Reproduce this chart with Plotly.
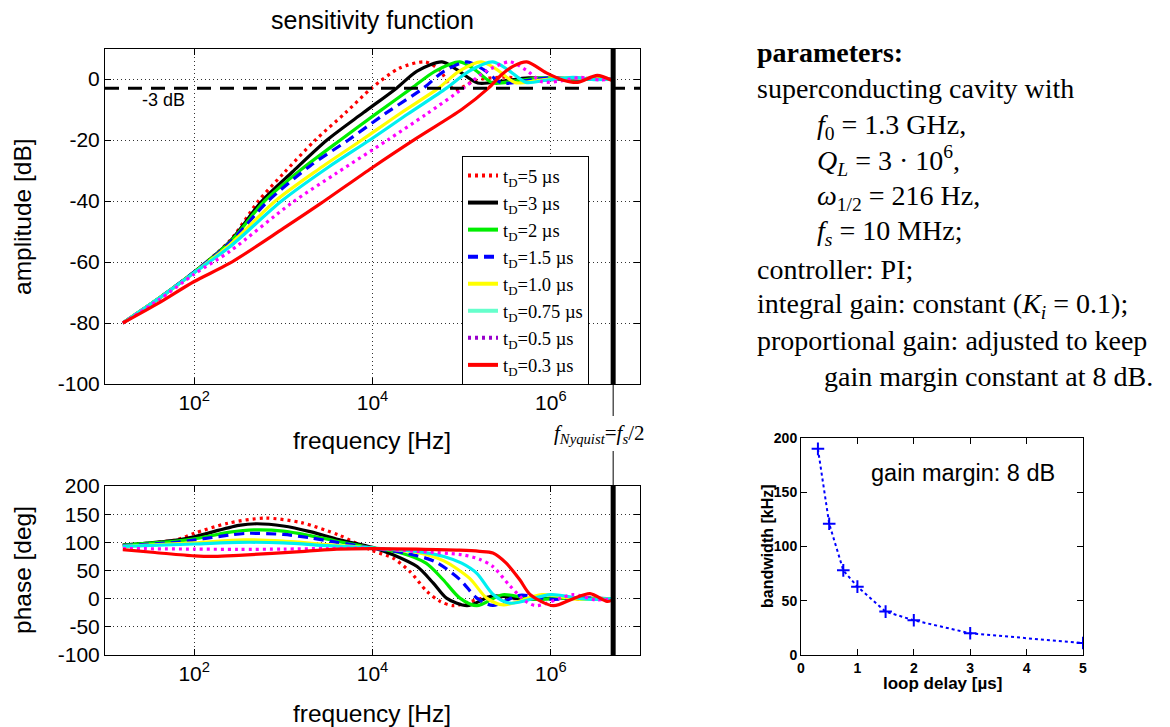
import plotly.graph_objects as go

# ---------------- data ----------------
delay_labels = ["t<sub>D</sub>=5 µs", "t<sub>D</sub>=3 µs", "t<sub>D</sub>=2 µs", "t<sub>D</sub>=1.5 µs",
                "t<sub>D</sub>=1.0 µs", "t<sub>D</sub>=0.75 µs", "t<sub>D</sub>=0.5 µs", "t<sub>D</sub>=0.3 µs"]

# amplitude of the sensitivity function: log10(frequency/Hz) and dB
amp_logf = [
    [1.2, 1.6, 2.0, 2.4, 2.72, 3.0, 3.36, 3.7, 3.99, 4.3, 4.59, 4.75, 4.92, 5.15, 5.45, 5.9, 6.3, 6.7],
    [1.2, 1.6, 2.0, 2.4, 2.76, 3.1, 3.49, 3.9, 4.27, 4.5, 4.78, 4.95, 5.18, 5.45, 5.75, 6.1, 6.7],
    [1.2, 1.6, 2.0, 2.4, 2.79, 3.2, 3.64, 4.05, 4.44, 4.7, 4.98, 5.15, 5.35, 5.6, 5.9, 6.3, 6.7],
    [1.2, 1.6, 2.0, 2.4, 2.83, 3.3, 3.73, 4.15, 4.57, 4.8, 5.06, 5.25, 5.45, 5.7, 6.0, 6.4, 6.7],
    [1.2, 1.6, 2.0, 2.4, 2.91, 3.4, 3.88, 4.31, 4.74, 4.97, 5.22, 5.4, 5.6, 5.85, 6.15, 6.5, 6.7],
    [1.2, 1.6, 2.0, 2.4, 2.98, 3.5, 3.97, 4.4, 4.83, 5.08, 5.35, 5.52, 5.72, 5.95, 6.25, 6.5, 6.7],
    [1.2, 1.6, 2.0, 2.4, 3.10, 3.6, 4.17, 4.6, 5.02, 5.27, 5.54, 5.72, 5.9, 6.1, 6.33, 6.55, 6.7],
    [1.2, 1.6, 2.0, 2.4, 3.0, 3.42, 4.0, 4.5, 5.0, 5.30, 5.45, 5.58, 5.73, 5.95, 6.14, 6.3, 6.52, 6.68],
]
amp_db = [
    [-80, -72, -63.3, -53, -40, -31, -20, -11, -3, 3.5, 5.6, 3.0, -3.5, -0.5, 0.6, -0.3, 0.2, 0],
    [-80, -72, -63.3, -53.3, -40, -30.5, -20, -11, -3, 2.6, 5.6, 3.0, -1.3, -0.7, 0.4, 0, 0],
    [-80, -72, -63.3, -53.5, -40, -29.7, -20, -11.2, -3, 2.5, 5.6, 3.0, -1.3, -0.6, 0.4, 0, 0],
    [-80, -72, -63.3, -53.7, -40, -28.5, -20, -11.2, -3, 2.5, 5.6, 3.0, -1.3, -0.6, 0.4, 0, 0],
    [-80, -72, -63.5, -54.3, -40, -29.5, -20, -11.3, -3, 2.5, 5.6, 3.0, -1.2, -0.5, 0.4, 0, 0],
    [-80, -72, -63.5, -55, -40, -29, -20, -11.4, -3, 2.5, 5.6, 3.0, -1.1, -0.4, 0.5, -0.2, 0],
    [-80, -72.5, -64, -56.5, -40.5, -30.8, -20, -11.6, -3, 2.5, 5.6, 3.0, -0.9, -0.7, 0.5, -0.3, 0],
    [-80, -73.5, -66.4, -60.4, -49, -40.8, -29, -19.3, -10, -3, 1.5, 4.2, 5.6, 2.0, -0.4, -1.1, 1.2, -0.4],
]

# phase of the sensitivity function: log10(frequency/Hz) and degrees
ph_logf = [
    [1.2, 1.8, 2.0, 2.38, 2.8, 3.2, 3.62, 4.0, 4.23, 4.42, 4.61, 4.76, 4.91, 5.1, 5.3, 5.6, 6.0, 6.4, 6.7],
    [1.2, 1.8, 2.0, 2.5, 2.7, 3.0, 3.3, 3.62, 4.0, 4.23, 4.5, 4.68, 4.83, 5.06, 5.35, 5.7, 6.1, 6.7],
    [1.2, 1.8, 2.0, 2.4, 2.67, 3.0, 3.3, 3.6, 4.0, 4.3, 4.6, 4.79, 4.98, 5.17, 5.46, 5.8, 6.2, 6.7],
    [1.2, 1.8, 2.0, 2.4, 2.6, 3.0, 3.3, 3.6, 4.0, 4.4, 4.7, 4.98, 5.17, 5.35, 5.65, 6.0, 6.4, 6.7],
    [1.2, 2.0, 2.55, 3.0, 3.5, 4.0, 4.5, 4.8, 5.09, 5.28, 5.47, 5.9, 6.3, 6.7],
    [1.2, 2.0, 2.5, 3.0, 3.5, 4.0, 4.5, 4.8, 5.0, 5.17, 5.35, 5.54, 6.0, 6.4, 6.7],
    [1.2, 2.0, 2.5, 3.0, 3.5, 4.0, 4.5, 5.0, 5.2, 5.35, 5.54, 5.72, 5.84, 6.25, 6.5, 6.7],
    [1.2, 1.56, 2.0, 2.23, 2.5, 3.24, 3.6, 4.0, 4.5, 4.98, 5.2, 5.35, 5.5, 5.65, 5.77, 6.03, 6.25, 6.44, 6.63, 6.68],
]
ph_deg = [
    [95, 104.6, 116, 134, 143, 135, 113, 85, 72, 48, 13, -5, -12.5, -5, 3, 0, 1, -1, 0],
    [95, 104, 110, 130, 133, 129, 119, 105, 91, 78, 57, 28, 1, -12.5, 5, -1, 1, 0],
    [95, 102, 106, 118, 122, 120, 112, 102, 90, 82, 63, 34, 1, -12.5, 7, -1, 1, 0],
    [94, 100, 104, 113, 116, 114, 108, 100, 90, 80, 66, 34, 1, -12, 6, -1, 1, 0],
    [93, 99, 104.6, 102, 96, 90, 82, 67, 36, 1, -11, 7, -1, 0],
    [93, 97, 100, 99, 94, 90, 84, 75, 63, 45, 8, -8, 7, -1, 0],
    [89, 88, 87.5, 88, 89, 89, 84, 78, 70, 57, 23, -5, -12.5, 7, -2, 0],
    [87, 82, 76, 75, 77, 84, 88, 89, 88, 86, 84, 81, 63, 34, 7, -12.5, 0, 9, -5, -3],
]

nyquist_hz = 5e6          # f_s / 2
minus3_db = -3
amp_ticks = [-100, -80, -60, -40, -20, 0]
phase_ticks = [-100, -50, 0, 50, 100, 150, 200]

# bandwidth versus loop delay (inset)
delay_us = [0.3, 0.5, 0.75, 1.0, 1.5, 2.0, 3.0, 5.0]
bandwidth_khz = [190, 121, 78, 63, 40, 32, 20, 11]

# ---------------- styles ----------------
plot_colors = ["#ff0000", "#000000", "#00ee00", "#0000ff", "#ffff00", "#00f0f0", "#ff00ff", "#ff0000"]
legend_colors = ["#ff0000", "#000000", "#00ee00", "#0000ff", "#ffff00", "#66ffcc", "#9900cc", "#ff0000"]
dashes = ["3px,4px", "solid", "solid", "10px,6px", "solid", "solid", "3px,4px", "solid"]

W, H = 1170, 727
def px(x):
    return x / W
def py(y):
    return 1 - y / H

SANS = "Liberation Sans, Arial, Helvetica, sans-serif"
SERIF = "Liberation Serif, Times New Roman, serif"

fig = go.Figure()
for i in range(8):
    fig.add_trace(go.Scatter(
        x=[10 ** v for v in amp_logf[i]], y=amp_db[i], mode="lines",
        line=dict(color=plot_colors[i], width=3.2, dash=dashes[i], shape="spline", smoothing=0.8),
        showlegend=False, xaxis="x", yaxis="y", hoverinfo="skip"))
for i in range(8):
    fig.add_trace(go.Scatter(
        x=[10 ** v for v in ph_logf[i]], y=ph_deg[i], mode="lines",
        line=dict(color=plot_colors[i], width=3.2, dash=dashes[i], shape="spline", smoothing=0.8),
        showlegend=False, xaxis="x2", yaxis="y2", hoverinfo="skip"))
# legend entries (legend-only, no data drawn)
for i in range(8):
    fig.add_trace(go.Scatter(
        x=[None], y=[None], mode="lines", name=delay_labels[i],
        line=dict(color=legend_colors[i], width=4, dash=dashes[i]),
        showlegend=True, xaxis="x", yaxis="y"))

# Nyquist frequency markers
fig.add_trace(go.Scatter(x=[nyquist_hz, nyquist_hz], y=[-100, 10], mode="lines",
                         line=dict(color="black", width=5), showlegend=False,
                         xaxis="x", yaxis="y", hoverinfo="skip"))
fig.add_trace(go.Scatter(x=[nyquist_hz, nyquist_hz], y=[-100, 200], mode="lines",
                         line=dict(color="black", width=5), showlegend=False,
                         xaxis="x2", yaxis="y2", hoverinfo="skip"))
# inset: bandwidth vs loop delay
fig.add_trace(go.Scatter(x=delay_us, y=bandwidth_khz, mode="lines+markers",
                         line=dict(color="#0000ff", width=2, dash="dot"),
                         marker=dict(symbol="cross-thin", size=9, line=dict(color="#0000ff", width=2)),
                         showlegend=False, xaxis="x3", yaxis="y3", hoverinfo="skip"))

common_axis = dict(showline=True, linecolor="black", linewidth=1, mirror="ticks",
                   ticks="inside", ticklen=6, tickcolor="black", zeroline=False, automargin=False)
grid = dict(showgrid=True, gridcolor="#333333", griddash="1px,3px", gridwidth=1)
tickf = dict(family=SANS, size=21, color="black")
log_ticks = [1e2, 1e4, 1e6]
log_text = ["10<sup>2</sup>", "10<sup>4</sup>", "10<sup>6</sup>"]

fig.update_layout(
    template="none", autosize=True,
    margin=dict(l=0, r=0, t=0, b=0, pad=0, autoexpand=False),
    paper_bgcolor="white", plot_bgcolor="white",
    xaxis=dict(domain=[px(105), px(640)], type="log", range=[1, 7], anchor="y",
               tickvals=log_ticks, ticktext=log_text, tickfont=tickf, **grid, **common_axis),
    yaxis=dict(domain=[py(384), py(48.5)], range=[-100, 10], anchor="x",
               tickvals=amp_ticks, ticktext=[str(v) for v in amp_ticks],
               tickfont=tickf, **grid, **common_axis),
    xaxis2=dict(domain=[px(105), px(640)], type="log", range=[1, 7], anchor="y2",
                tickvals=log_ticks, ticktext=log_text, tickfont=tickf, **grid, **common_axis),
    yaxis2=dict(domain=[py(655), py(486)], range=[-100, 200], anchor="x2",
                tickvals=phase_ticks, ticktext=[str(v) for v in phase_ticks],
                tickfont=tickf, **grid, **common_axis),
    xaxis3=dict(domain=[px(801), px(1083)], range=[0, 5], anchor="y3", dtick=1, showgrid=False,
                tickfont=dict(family=SANS, size=14, color="black", weight="bold"), **common_axis),
    yaxis3=dict(domain=[py(655), py(438)], range=[0, 200], anchor="x3", dtick=50, showgrid=False,
                tickfont=dict(family=SANS, size=14, color="black", weight="bold"), **common_axis),
    legend=dict(x=px(462), y=py(156), xanchor="left", yanchor="top",
                bgcolor="white", bordercolor="black", borderwidth=1,
                font=dict(family=SERIF, size=18.5, color="black"),
                itemwidth=30, tracegroupgap=0, itemclick=False, itemdoubleclick=False),
)

shapes = [
    dict(type="line", xref="x domain", yref="y", x0=0, x1=1, y0=minus3_db, y1=minus3_db,
         line=dict(color="black", width=3, dash="14px,9px")),
    dict(type="line", xref="x", yref="paper", x0=nyquist_hz, x1=nyquist_hz, y0=py(384), y1=py(416),
         line=dict(color="black", width=1)),
    dict(type="line", xref="x", yref="paper", x0=nyquist_hz, x1=nyquist_hz, y0=py(451), y1=py(486),
         line=dict(color="black", width=1)),
]
fig.update_layout(shapes=shapes)

ann = []
def A(text, x, y, size, family=SANS, xanchor="center", angle=0, weight="normal"):
    ann.append(dict(text=text, x=px(x), y=py(y), xref="paper", yref="paper", showarrow=False,
                    xanchor=xanchor, yanchor="middle", textangle=angle,
                    font=dict(family=family, size=size, color="black", weight=weight)))

A("sensitivity function", 372, 20, 25)
A("amplitude [dB]", 22, 217, 24.5, angle=-90)
A("frequency [Hz]", 372, 440, 24.5)
A("phase [deg]", 22, 570, 24.5, angle=-90)
A("frequency [Hz]", 372, 713, 24.5)
A("-3 dB", 163, 100, 18)
A("<i>f</i><sub><i>Nyquist</i></sub>=<i>f</i><sub><i>s</i></sub>/2", 552, 434, 21, family=SERIF, xanchor="left")
A("gain margin: 8 dB", 963, 473, 23.5)
A("loop delay [µs]", 942, 683, 17, weight="bold")
A("bandwidth [kHz]", 767, 546, 16, angle=-90, weight="bold")

rx, ind, ind2 = 755, 815, 822
RS = 28
A("<b>parameters:</b>", rx, 52, RS, family=SERIF, xanchor="left")
A("superconducting cavity with", rx, 89, RS, family=SERIF, xanchor="left")
A("<i>f</i><sub>0</sub> = 1.3 GHz,", ind, 126, RS, family=SERIF, xanchor="left")
A("<i>Q<sub>L</sub></i> = 3 · 10<sup>6</sup>,", ind, 160, RS, family=SERIF, xanchor="left")
A("<i>ω</i><sub>1/2</sub> = 216 Hz,", ind, 197, RS, family=SERIF, xanchor="left")
A("<i>f<sub>s</sub></i> = 10 MHz;", ind, 233, RS, family=SERIF, xanchor="left")
A("controller: PI;", rx, 269, RS, family=SERIF, xanchor="left")
A("integral gain: constant (<i>K<sub>i</sub></i> = 0.1);", rx, 305, RS, family=SERIF, xanchor="left")
A("proportional gain: adjusted to keep", rx, 340, RS, family=SERIF, xanchor="left")
A("gain margin constant at 8 dB.", ind2, 376, RS, family=SERIF, xanchor="left")
fig.update_layout(annotations=ann)

# the graph div is pinned to the top-left corner of the page at exactly W x H pixels
fig.write_html("out.html",
               default_width=f"{W}px; position:absolute; left:0px; top:0px",
               default_height=f"{H}px",
               config={"responsive": False},
               post_script="document.body.style.margin='0px';")
